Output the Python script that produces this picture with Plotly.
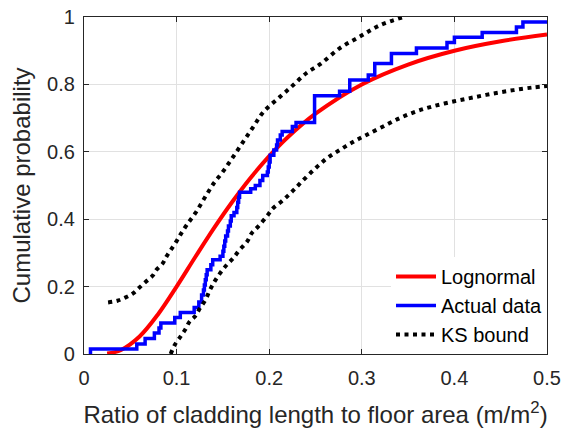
import plotly.graph_objects as go

# Empirical CDF of the measured ratios: step locations and cumulative probability after each step
step_x = [0.007, 0.057, 0.066, 0.076, 0.081, 0.083, 0.098, 0.104, 0.119, 0.124,
          0.127, 0.129, 0.130, 0.131, 0.132, 0.133, 0.137, 0.139, 0.147, 0.150,
          0.151, 0.152, 0.153, 0.155, 0.156, 0.158, 0.159, 0.162, 0.165, 0.166,
          0.167, 0.168, 0.180, 0.185, 0.190, 0.193, 0.198, 0.199, 0.200, 0.201,
          0.205, 0.208, 0.209, 0.212, 0.214, 0.225, 0.229, 0.249, 0.276, 0.287,
          0.307, 0.314, 0.332, 0.359, 0.392, 0.400, 0.430, 0.467, 0.474]
step_y = [0.015, 0.030, 0.046, 0.062, 0.077, 0.092, 0.108, 0.123, 0.138, 0.154,
          0.175, 0.190, 0.205, 0.220, 0.235, 0.250, 0.265, 0.280, 0.290, 0.305,
          0.320, 0.335, 0.350, 0.365, 0.380, 0.395, 0.410, 0.420, 0.435, 0.450,
          0.465, 0.480, 0.490, 0.500, 0.515, 0.530, 0.540, 0.555, 0.570, 0.590,
          0.605, 0.620, 0.635, 0.650, 0.660, 0.675, 0.687, 0.766, 0.780, 0.813,
          0.828, 0.862, 0.892, 0.908, 0.924, 0.940, 0.954, 0.970, 0.985]

# Fitted lognormal CDF
logn_x = [0.025, 0.04, 0.06, 0.08, 0.10, 0.12, 0.14, 0.16, 0.18, 0.20, 0.22,
          0.25, 0.30, 0.35, 0.40, 0.45, 0.50]
logn_y = [0.0015, 0.012, 0.052, 0.118, 0.200, 0.287, 0.372, 0.451, 0.523, 0.587,
          0.643, 0.713, 0.800, 0.859, 0.900, 0.928, 0.948]

# Kolmogorov-Smirnov confidence bounds
ks_up_x = [0.026, 0.036, 0.045, 0.053, 0.059, 0.067, 0.074, 0.078, 0.085, 0.089,
           0.094, 0.100, 0.105, 0.111, 0.120, 0.130, 0.140, 0.150, 0.161, 0.172,
           0.183, 0.194, 0.212, 0.226, 0.240, 0.255, 0.276, 0.298, 0.320, 0.345]
ks_up_y = [0.153, 0.158, 0.168, 0.180, 0.195, 0.215, 0.232, 0.249, 0.269, 0.289,
           0.310, 0.335, 0.358, 0.383, 0.417, 0.462, 0.506, 0.541, 0.585, 0.630,
           0.675, 0.719, 0.764, 0.798, 0.833, 0.860, 0.907, 0.942, 0.976, 1.000]
ks_lo_x = [0.0936, 0.098, 0.104, 0.109, 0.114, 0.120, 0.125, 0.131, 0.136, 0.141,
           0.147, 0.154, 0.161, 0.168, 0.176, 0.181, 0.188, 0.197, 0.204, 0.213,
           0.221, 0.228, 0.235, 0.248, 0.262, 0.276, 0.291, 0.305, 0.323, 0.341,
           0.359, 0.377, 0.400, 0.420, 0.442, 0.464, 0.485, 0.500]
ks_lo_y = [0.000, 0.027, 0.051, 0.071, 0.096, 0.112, 0.135, 0.160, 0.190, 0.215,
           0.240, 0.264, 0.284, 0.309, 0.333, 0.358, 0.378, 0.407, 0.432, 0.452,
           0.472, 0.491, 0.511, 0.546, 0.580, 0.605, 0.630, 0.650, 0.675, 0.700,
           0.720, 0.735, 0.750, 0.761, 0.773, 0.783, 0.791, 0.795]

x_ticks = [0, 0.1, 0.2, 0.3, 0.4, 0.5]
y_ticks = [0, 0.2, 0.4, 0.6, 0.8, 1]

FONT = "Liberation Sans, Arial, Helvetica, sans-serif"
INK = "#262626"

# Staircase: start from zero at the first sample, run past the right edge at the last level
ecdf_x = [step_x[0]] + step_x + [0.56]
ecdf_y = [0.0] + step_y + [step_y[-1]]

ks_line = dict(color="#000000", width=4, dash="4px,4.5px", shape="spline")

fig = go.Figure()
fig.add_trace(go.Scatter(x=logn_x, y=logn_y, mode="lines", name="Lognormal",
                         line=dict(color="#ff0000", width=4, shape="spline")))
fig.add_trace(go.Scatter(x=ecdf_x, y=ecdf_y, mode="lines", name="Actual data",
                         line=dict(color="#0000ff", width=3.5, shape="hv")))
fig.add_trace(go.Scatter(x=ks_up_x, y=ks_up_y, mode="lines", name="KS bound",
                         line=ks_line))
fig.add_trace(go.Scatter(x=ks_lo_x, y=ks_lo_y, mode="lines", name="KS bound",
                         showlegend=False, line=ks_line))

axis_common = dict(
    showline=True, linecolor=INK, linewidth=1.3, mirror="allticks",
    ticks="inside", ticklen=5, tickwidth=1, tickcolor=INK,
    showgrid=True, gridcolor="#e1e1e1", gridwidth=1, zeroline=False,
    tickfont=dict(family=FONT, size=20, color=INK),
    automargin=False,
)

fig.update_layout(
    width=562, height=429,
    margin=dict(l=84, r=15, t=17, b=75),
    paper_bgcolor="white", plot_bgcolor="white",
    font=dict(family=FONT, color=INK),
    xaxis=dict(range=[0, 0.5], tickvals=x_ticks,
               ticktext=[f"{v:g}" for v in x_ticks],
               ticklabelstandoff=6,
               title=dict(text="Ratio of cladding length to floor area (m/m<sup>2</sup>)",
                          font=dict(family=FONT, size=24, color=INK), standoff=18),
               **axis_common),
    yaxis=dict(range=[0, 1], tickvals=y_ticks,
               ticktext=[f"{v:g}" for v in y_ticks],
               ticklabelstandoff=4,
               title=dict(text="Cumulative probability",
                          font=dict(family=FONT, size=24, color=INK), standoff=9),
               **axis_common),
    legend=dict(x=1, y=0, xanchor="right", yanchor="bottom",
                bgcolor="white", borderwidth=0,
                font=dict(family=FONT, size=20, color="#000000"),
                itemwidth=40, tracegroupgap=0),
    showlegend=True,
)

fig.write_html("out.html")
